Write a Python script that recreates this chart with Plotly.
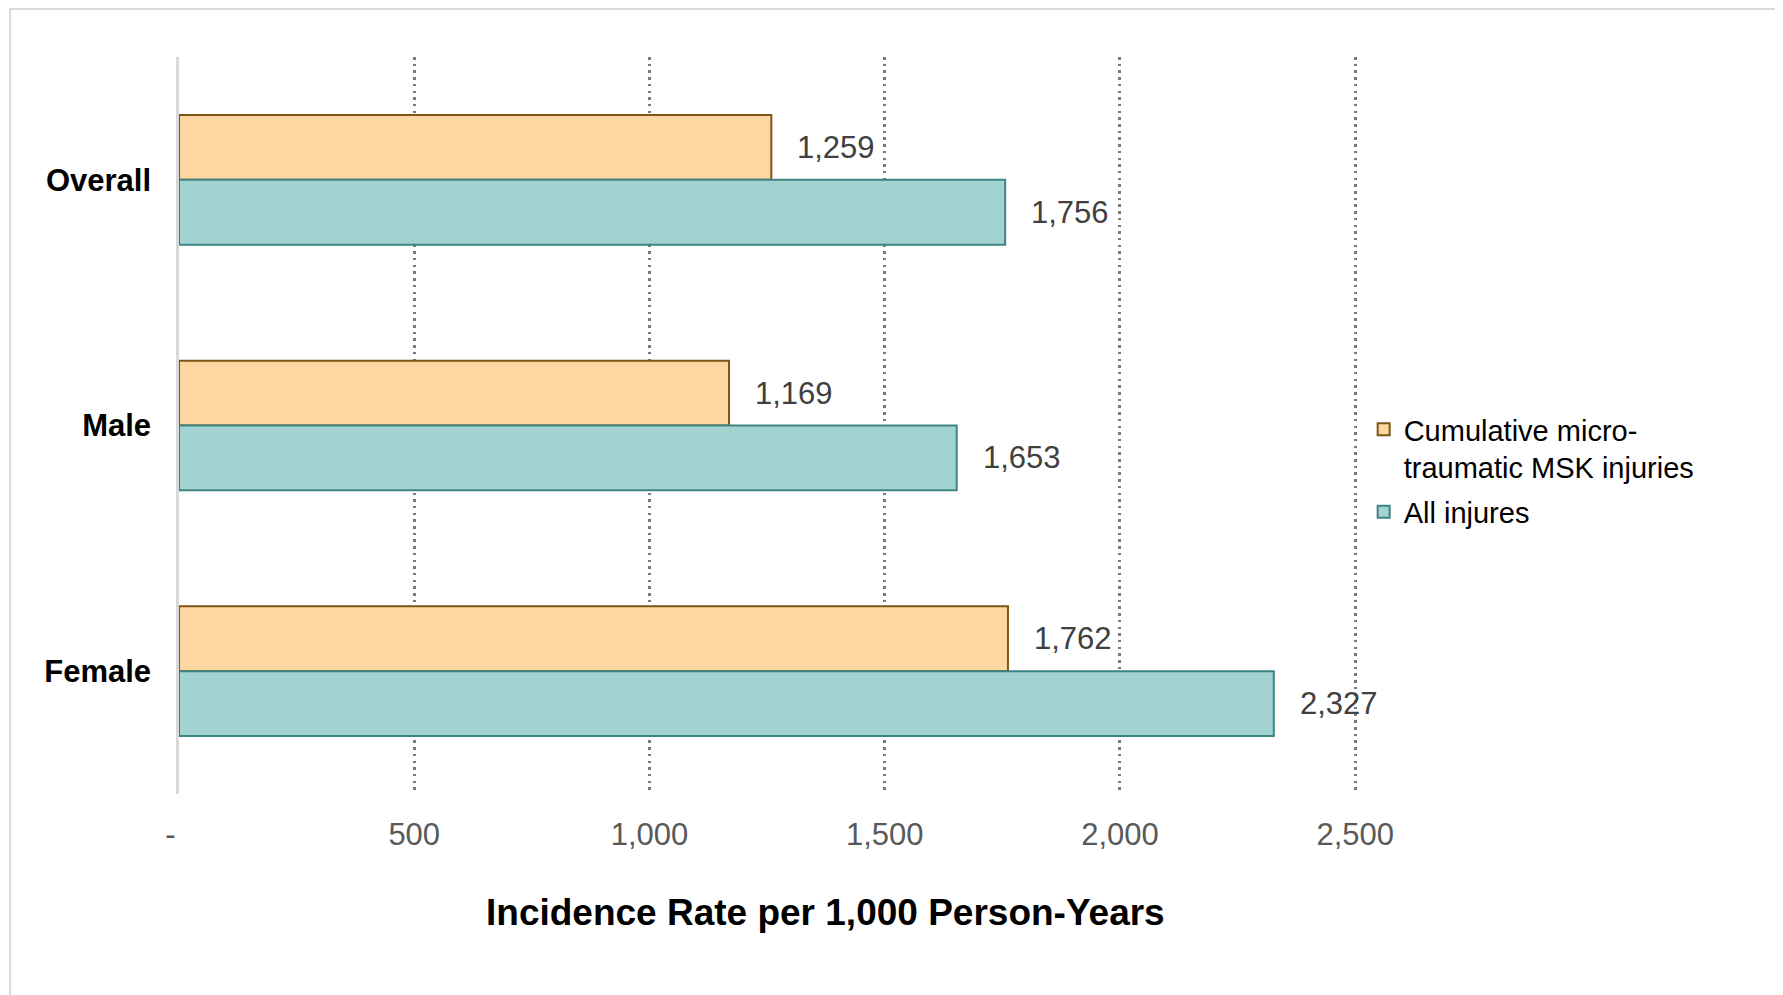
import plotly.graph_objects as go

categories = ["Overall", "Male", "Female"]
series_names = ["Cumulative micro-<br>traumatic MSK injuries", "All injures"]
micro_values = [1259, 1169, 1762]
all_values = [1756, 1653, 2327]
x_tickvals = [0, 500, 1000, 1500, 2000, 2500]
x_ticktext = ["-\u00a0\u00a0", "500", "1,000", "1,500", "2,000", "2,500"]
x_title = "Incidence Rate per 1,000 Person-Years"

FONT = "Arial, 'Liberation Sans', sans-serif"
OFF = 8  # page body margin
W, H = 1783 - OFF, 995 - OFF
XMAX = 2506
PX_PER_UNIT = 235.4 / 500
ML = 178.5 - OFF
PW = XMAX * PX_PER_UNIT
MR = W - ML - PW
MT = 57 - OFF
MB = 995 - 794
PH = H - MT - MB

fills = ["#FCD7A1", "#A2D3D1"]
lines = ["#7F5417", "#3B8482"]
values = [micro_values, all_values]

fig = go.Figure()
for k, (name, vals, fc, lc) in enumerate(zip(series_names, values, fills, lines)):
    fig.add_trace(go.Bar(
        y=categories, x=vals, orientation="h", name=name, legendgroup=f"g{k}",
        marker=dict(color=fc, line=dict(color=lc, width=2)),
        hoverinfo="x+y",
    ))

# data labels
bar_px = PH / len(categories) * (1 - 0.472) / 2
for i, vals in enumerate(values):
    shift = bar_px / 2 if i == 0 else -bar_px / 2
    for c, v in zip(categories, vals):
        fig.add_annotation(x=v, y=c, text=f"{v:,}", showarrow=False,
                           xanchor="left", yanchor="middle", xshift=24, yshift=shift,
                           font=dict(family=FONT, size=31, color="#404040"))

def px_to_paper_x(px):
    return (px - OFF - ML) / PW

def px_to_paper_y(py):
    return (MT + PH - (py - OFF)) / PH

fig.add_annotation(x=px_to_paper_x(825), y=px_to_paper_y(912), xref="paper", yref="paper",
                   text=f"<b>{x_title}</b>", showarrow=False, xanchor="center", yanchor="middle",
                   font=dict(family=FONT, size=37, color="#000000"))

# outer frame lines
fig.add_shape(type="line", xref="paper", yref="paper",
              x0=px_to_paper_x(9.5), x1=px_to_paper_x(9.5), y0=px_to_paper_y(9), y1=px_to_paper_y(1005),
              line=dict(color="#d9d9d9", width=2))
fig.add_shape(type="line", xref="paper", yref="paper",
              x0=px_to_paper_x(9), x1=px_to_paper_x(1800), y0=px_to_paper_y(9), y1=px_to_paper_y(9),
              line=dict(color="#d9d9d9", width=2))

fig.update_layout(
    width=W, height=H,
    margin=dict(l=ML, r=MR, t=MT, b=MB, pad=0, autoexpand=False),
    paper_bgcolor="white", plot_bgcolor="white",
    barmode="group", bargap=0.472, bargroupgap=0,
    font=dict(family=FONT, color="#000000"),
    showlegend=True,
    legend=dict(x=px_to_paper_x(1364), y=px_to_paper_y(471), xanchor="left", yanchor="middle",
                font=dict(family=FONT, size=29, color="#000000"), valign="top",
                bgcolor="rgba(0,0,0,0)", traceorder="grouped", tracegroupgap=4),
    xaxis=dict(range=[0, XMAX], tickvals=x_tickvals, ticktext=x_ticktext,
               showgrid=True, gridcolor="#7a7a7a", gridwidth=2.5, griddash="2.5px,4.2px",
               zeroline=False, showline=False, ticks="",
               tickfont=dict(family=FONT, size=31, color="#595959"),
               ticklabelstandoff=19, fixedrange=True),
    yaxis=dict(autorange="reversed", type="category", showgrid=False, zeroline=False,
               showline=True, linecolor="#d9d9d9", linewidth=2.5, ticks="",
               tickfont=dict(family=FONT, size=31, color="#000000", weight="bold"),
               ticklabelstandoff=19, fixedrange=True),
)

fig.write_html("out.html")
